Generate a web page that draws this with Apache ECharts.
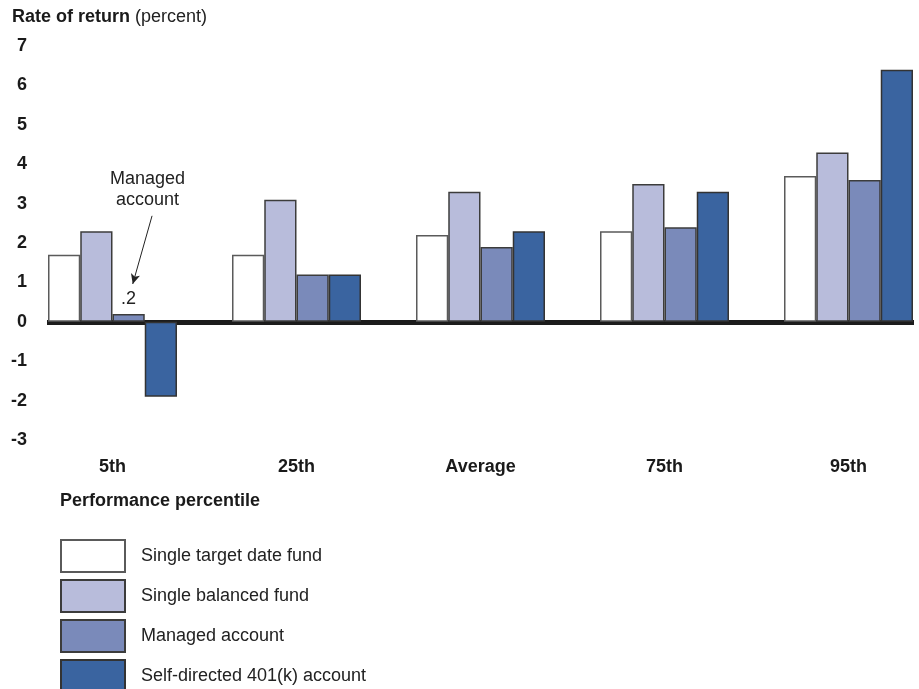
<!DOCTYPE html>
<html>
<head>
    <meta charset="utf-8" />
    <title>Rate of return by performance percentile</title>
    <script src="https://cdn.jsdelivr.net/npm/echarts@6/dist/echarts.min.js"></script>
    <style>
        html, body { margin: 0; padding: 0; background: #fff; }
        #chart { width: 919px; height: 689px; }
    </style>
</head>
<body>
    <div id="chart"></div>
    <script>
        // values (percent)
        var categories = ['5th', '25th', 'Average', '75th', '95th'];
        var seriesNames = ['Single target date fund', 'Single balanced fund', 'Managed account', 'Self-directed 401(k) account'];
        var targetDate = [1.7, 1.7, 2.2, 2.3, 3.7];
        var balanced = [2.3, 3.1, 3.3, 3.5, 4.3];
        var managed = [0.2, 1.2, 1.9, 2.4, 3.6];
        var selfDirected = [-1.9, 1.2, 2.3, 3.3, 6.4];
        var yTicks = [-3, -2, -1, 0, 1, 2, 3, 4, 5, 6, 7];

        // callout for the managed account bar (value-space positions)
        var calloutText = [[0.19, 3.36]];
        var calloutArrow = [[0.215, 2.69], [0.11, 0.96]];

        var font = 'Liberation Sans, Arial, sans-serif';
        var colors = ['#ffffff', '#b8bcdb', '#7a8aba', '#3a64a0'];
        var borders = ['#5a5a5a', '#3c3c3c', '#3c3c3c', '#333333'];

        var chart = echarts.init(document.getElementById('chart'));

        function barSeries(i, values) {
            return {
                name: seriesNames[i],
                type: 'bar',
                xAxisIndex: 0,
                yAxisIndex: 0,
                barGap: '0%',
                barCategoryGap: '29.9%',
                data: values,
                itemStyle: { color: colors[i], borderColor: borders[i], borderWidth: 1.5 }
            };
        }

        var managedSeries = barSeries(2, managed.map(function (v, i) {
            if (i !== 0) return v;
            return {
                value: v,
                label: {
                    show: true, position: 'top', distance: 6,
                    formatter: function (p) { return String(p.value).replace(/^0/, ''); },
                    fontFamily: font, fontSize: 18, color: '#222'
                }
            };
        }));

        var option = {
            animation: false,
            textStyle: { fontFamily: font },
            title: [{
                left: 12, top: 8, padding: 0,
                text: '{b|Rate of return} {n|(percent)}',
                textStyle: {
                    rich: {
                        b: { fontFamily: font, fontSize: 18, fontWeight: 'bold', color: '#1a1a1a' },
                        n: { fontFamily: font, fontSize: 18, fontWeight: 'normal', color: '#222' }
                    }
                }
            }, {
                left: 60, top: 492, padding: 0,
                text: 'Performance percentile',
                textStyle: { fontFamily: font, fontSize: 18, fontWeight: 'bold', color: '#1a1a1a' }
            }],
            legend: {
                data: seriesNames,
                orient: 'vertical',
                left: 60, top: 539, height: 200, padding: 0,
                icon: 'rect',
                itemWidth: 64, itemHeight: 32, itemGap: 6,
                selectedMode: false,
                textStyle: { fontFamily: font, fontSize: 18, color: '#222', padding: [0, 0, 0, 11] }
            },
            grid: [
                { left: 20.5, width: 920, top: 46, height: 394, outerBoundsMode: 'none' },
                { left: 47, width: 867, top: 46, height: 394, outerBoundsMode: 'none' }
            ],
            xAxis: [{
                gridIndex: 0,
                type: 'category',
                data: categories,
                axisLine: { show: false, onZero: false },
                axisTick: { show: false },
                axisLabel: { margin: 18, fontFamily: font, fontSize: 18, fontWeight: 'bold', color: '#1a1a1a' }
            }, {
                gridIndex: 1,
                type: 'value',
                min: 0, max: 1,
                axisLine: { show: true, onZero: true, lineStyle: { color: '#1c1c1c', width: 5, cap: 'butt' } },
                axisTick: { show: false },
                axisLabel: { show: false },
                splitLine: { show: false }
            }, {
                gridIndex: 0,
                type: 'value',
                min: -0.5, max: 4.5,
                show: false
            }],
            yAxis: [{
                gridIndex: 0,
                type: 'value',
                min: yTicks[0], max: yTicks[yTicks.length - 1],
                show: false
            }, {
                gridIndex: 1,
                type: 'value',
                min: yTicks[0], max: yTicks[yTicks.length - 1], interval: 1,
                axisLine: { show: false },
                axisTick: { show: false },
                splitLine: { show: false },
                axisLabel: { margin: 20, fontFamily: font, fontSize: 18, fontWeight: 'bold', color: '#1a1a1a' }
            }],
            series: [
                barSeries(0, targetDate),
                barSeries(1, balanced),
                managedSeries,
                barSeries(3, selfDirected),
                {
                    type: 'scatter',
                    xAxisIndex: 2,
                    yAxisIndex: 0,
                    symbolSize: 0,
                    silent: true,
                    itemStyle: { opacity: 1 },
                    data: calloutText,
                    label: {
                        show: true, position: 'inside',
                        formatter: 'Managed\naccount',
                        fontFamily: font, fontSize: 18, lineHeight: 21, color: '#222'
                    },
                    markLine: {
                        silent: true,
                        symbol: ['none', 'arrow'],
                        symbolSize: [7, 10],
                        label: { show: false },
                        lineStyle: { color: '#222', width: 1, type: 'solid' },
                        data: [[{ coord: calloutArrow[0] }, { coord: calloutArrow[1] }]]
                    }
                }
            ]
        };

        chart.setOption(option);
    </script>
</body>
</html>
